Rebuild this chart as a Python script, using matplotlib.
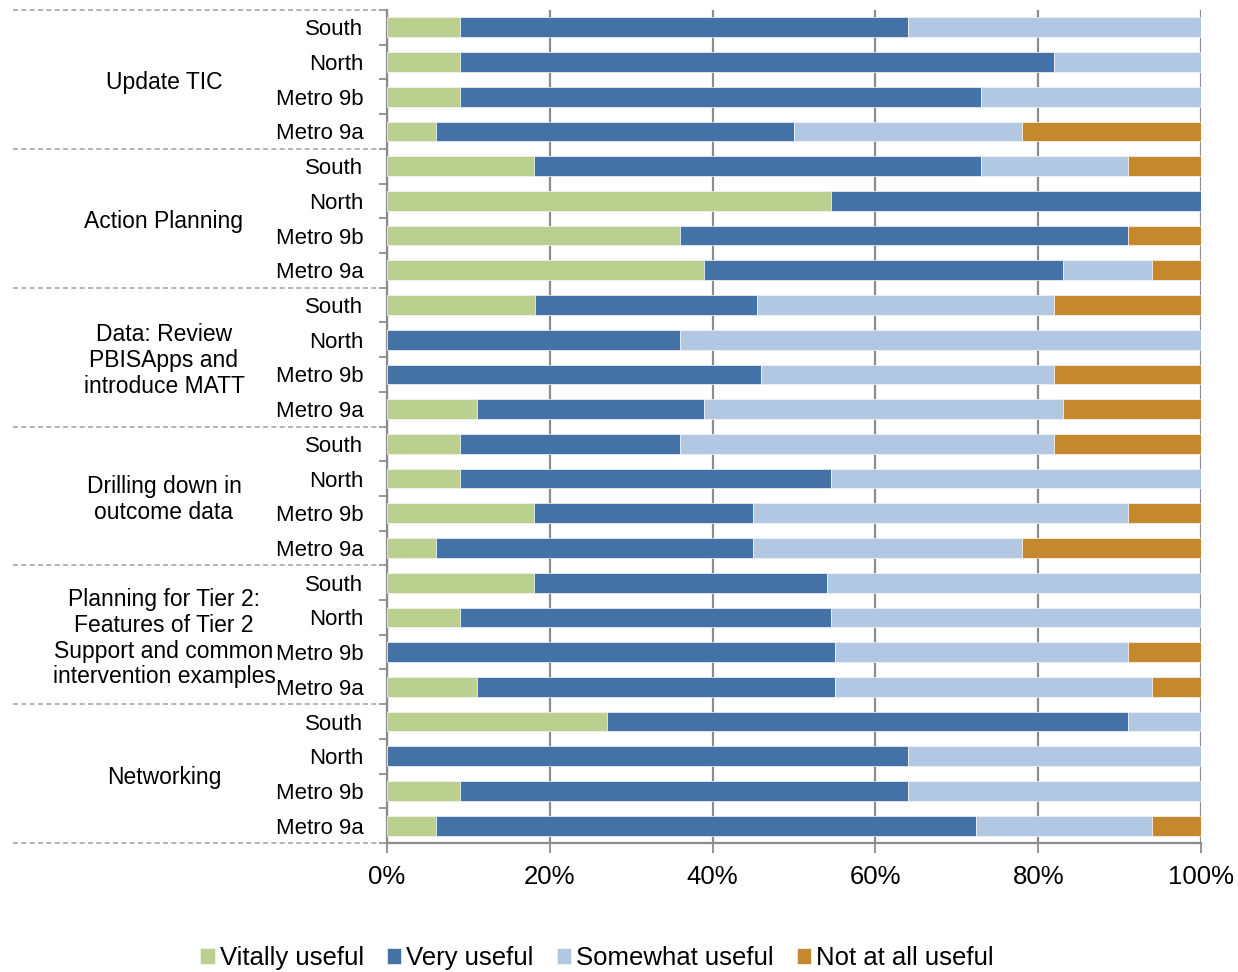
import matplotlib.pyplot as plt
import matplotlib.transforms as mtransforms
from matplotlib.ticker import FixedLocator, PercentFormatter
import numpy as np

plt.rcParams['font.family'] = ['Liberation Sans', 'DejaVu Sans']

# Survey responses (% of respondents), top to bottom
groups = ["Update TIC", "Action Planning",
          "Data: Review\nPBISApps and\nintroduce MATT",
          "Drilling down in\noutcome data",
          "Planning for Tier 2:\nFeatures of Tier 2\nSupport and common\nintervention examples",
          "Networking"]
regions = ["South", "North", "Metro 9b", "Metro 9a"]

vitally = [9, 9, 9, 6,
           18, 54.5, 36, 39,
           18.2, 0, 0, 11,
           9, 9, 18, 6,
           18, 9, 0, 11,
           27, 0, 9, 6]
very = [55, 73, 64, 44,
        55, 45.5, 55, 44,
        27.3, 36, 46, 28,
        27, 45.5, 27, 39,
        36, 45.5, 55, 44,
        64, 64, 55, 66.4]
somewhat = [36, 18, 27, 28,
            18, 0, 0, 11,
            36.4, 64, 36, 44,
            46, 45.5, 46, 33,
            46, 45.5, 36, 39,
            9, 36, 36, 21.6]
not_at_all = [0, 0, 0, 22,
              9, 0, 9, 6,
              18.1, 0, 18, 17,
              18, 0, 9, 22,
              0, 0, 9, 6,
              0, 0, 0, 6]

series = [("Vitally useful", vitally, "#BBCF8F"),
          ("Very useful", very, "#4472A6"),
          ("Somewhat useful", somewhat, "#B2C7E1"),
          ("Not at all useful", not_at_all, "#C6882E")]

fig = plt.figure(figsize=(12.38, 9.72), dpi=100)
ax = fig.add_axes([387 / 1238, 129 / 972, 814 / 1238, 833 / 972])

n = len(vitally)
y = np.arange(n)
left = np.zeros(n)
for name, vals, col in series:
    vals = np.array(vals, dtype=float)
    ax.barh(y, vals, left=left, height=0.57, color=col, label=name,
            edgecolor="#f4f6f8", linewidth=0.5, zorder=3)
    left += vals

ax.set_xlim(0, 100)
ax.set_ylim(n - 0.5, -0.5)

grey = "#8c8c8c"
ax.xaxis.set_major_locator(FixedLocator([0, 20, 40, 60, 80, 100]))
ax.xaxis.set_major_formatter(PercentFormatter(decimals=0))
ax.grid(axis="x", color=grey, linewidth=1.6, zorder=1)
ax.tick_params(axis="x", length=7, width=1.3, color=grey, labelsize=18.5, pad=9)

ax.set_yticks(y)
ax.set_yticklabels(regions * len(groups), fontsize=16)
ax.yaxis.set_minor_locator(FixedLocator(np.arange(-0.5, n, 1.0)))
ax.tick_params(axis="y", which="major", length=0, pad=17)
ax.tick_params(axis="y", which="minor", length=6, width=1.3, color=grey)

for s in ["top", "right"]:
    ax.spines[s].set_visible(False)
for s in ["left", "bottom"]:
    ax.spines[s].set_color(grey)
    ax.spines[s].set_linewidth(1.6)

# group labels and dashed separators on the left
trans = mtransforms.blended_transform_factory(ax.transAxes, ax.transData)
label_x = (164 - 387) / 814
for g, name in enumerate(groups):
    ax.text(label_x, 4 * g + 1.6, name, transform=trans, ha="center",
            va="center", fontsize=16.5, linespacing=1.15)
for b in np.arange(-0.5, n + 0.5, 4):
    ax.plot([(13 - 387) / 814, 0], [b, b], transform=trans, clip_on=False,
            color="#a6a6a6", linestyle=(0, (3, 2)), linewidth=1.2)

ax.legend(loc="center", bbox_to_anchor=(597 / 1238, 14 / 972),
          bbox_transform=fig.transFigure, ncol=4, frameon=False,
          fontsize=18.5, handlelength=0.55, handleheight=0.55,
          handletextpad=0.2, columnspacing=0.9)

fig.savefig("out.png", dpi=100)
